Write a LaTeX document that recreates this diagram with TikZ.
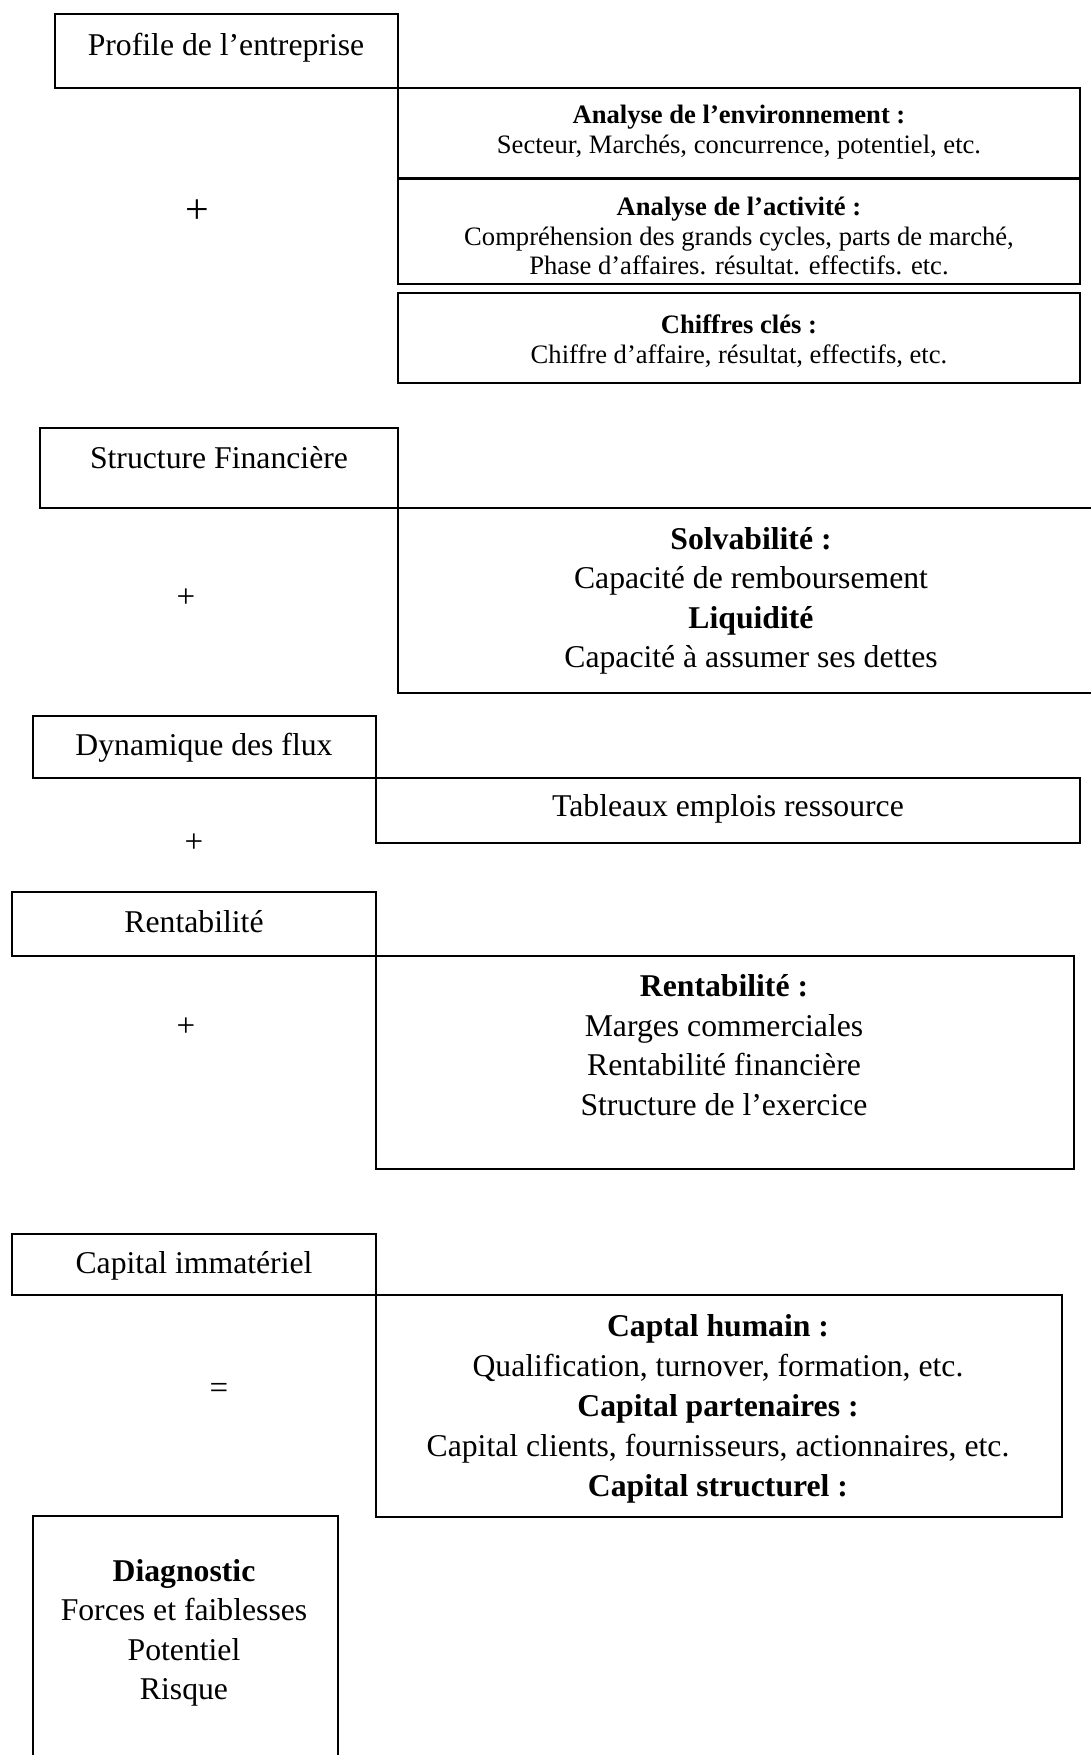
\documentclass[tikz,border=0pt]{standalone}
\usepackage{fontspec}
\setmainfont{Liberation Serif}
\begin{document}
\begin{tikzpicture}[x=1pt,y=-1pt,
  boxline/.style={draw=black,line width=2pt},
  bx/.style={boxline,inner sep=0pt,outer sep=0pt,anchor=north west},
  big/.style={font=\fontsize{31.7}{39.5}\selectfont,align=center,inner sep=0pt},
  small/.style={font=\fontsize{26.6}{29.7}\selectfont,align=center,inner sep=0pt},
  op/.style={font=\fontsize{33}{36}\selectfont,inner sep=0pt}]
\useasboundingbox (0,0) rectangle (1090,1755);
\fill[white] (0,0) rectangle (1090,1755);
% Block 1
\node[bx,minimum width=343pt,minimum height=74pt] (b1) at (55,14) {};
\node[big] (t1) at (226,48) {Profile de l’entreprise};
\node[bx,minimum width=682pt,minimum height=90pt] (b1a) at (398,88) {};
\node[small] (t1a) at (739,132) {\textbf{Analyse de l’environnement :}\\Secteur, Marchés, concurrence, potentiel, etc.};
\node[bx,minimum width=682pt,minimum height=105pt] (b1b) at (398,179) {};
\node[small] (t1b) at (739,236) {\textbf{Analyse de l’activité :}\\Compréhension des grands cycles, parts de marché,\\Phase d’affaires. résultat. effectifs. etc.};
\node[bx,minimum width=682pt,minimum height=90pt] (b1c) at (398,293) {};
\node[small] (t1c) at (739,341) {\textbf{Chiffres clés :}\\Chiffre d’affaire, résultat, effectifs, etc.};
\node[font=\fontsize{42}{44}\selectfont,inner sep=0pt] (p1) at (197,212) {+};
% Block 2
\node[bx,minimum width=358.5pt,minimum height=80pt] (b2) at (39.5,428) {};
\node[big] (t2) at (219,458) {Structure Financière};
\coordinate (c2a) at (1092,508);
\coordinate (c2b) at (1092,693);
\draw[boxline] (c2a) -- (b2.south east) -- (398,693) -- (c2b);
\node[big] (t2a) at (751,601) {\textbf{Solvabilité :}\\Capacité de remboursement\\\textbf{Liquidité}\\Capacité à assumer ses dettes};
\node[op] (p2) at (186,598) {+};
% Block 3
\node[bx,minimum width=343.5pt,minimum height=62pt] (b3) at (32.5,716) {};
\node[big] (t3) at (204,748) {Dynamique des flux};
\node[bx,minimum width=704pt,minimum height=65pt] (b3a) at (376,778) {};
\node[big] (t3a) at (728,809) {Tableaux emplois ressource};
\node[op] (p3) at (194,843) {+};
% Block 4
\node[bx,minimum width=364pt,minimum height=64pt] (b4) at (12,892) {};
\node[big] (t4) at (194,922) {Rentabilité};
\node[bx,minimum width=698pt,minimum height=213pt] (b4a) at (376,956) {};
\node[big] (t4a) at (724,1045) {\textbf{Rentabilité :}\\Marges commerciales\\Rentabilité financière\\Structure de l’exercice};
\node[op] (p4) at (186,1027) {+};
% Block 5
\node[bx,minimum width=364pt,minimum height=61pt] (b5) at (12,1234) {};
\node[big] (t5) at (194,1266) {Capital immatériel};
\node[bx,minimum width=686pt,minimum height=222pt] (b5a) at (376,1295) {};
\node[big,font=\fontsize{31.7}{40}\selectfont] (t5a) at (718,1409) {\textbf{Captal humain :}\\Qualification, turnover, formation, etc.\\\textbf{Capital partenaires :}\\Capital clients, fournisseurs, actionnaires, etc.\\\textbf{Capital structurel :}};
\node[op] (eq) at (219,1391) {=};
% Diagnostic
\coordinate (d1) at (33,1760);
\coordinate (d2) at (338,1760);
\draw[boxline] (d1) -- (33,1516) -- (338,1516) -- (d2);
\node[big] (t6) at (184,1633) {\textbf{Diagnostic}\\Forces et faiblesses\\Potentiel\\Risque};
\end{tikzpicture}
\end{document}
